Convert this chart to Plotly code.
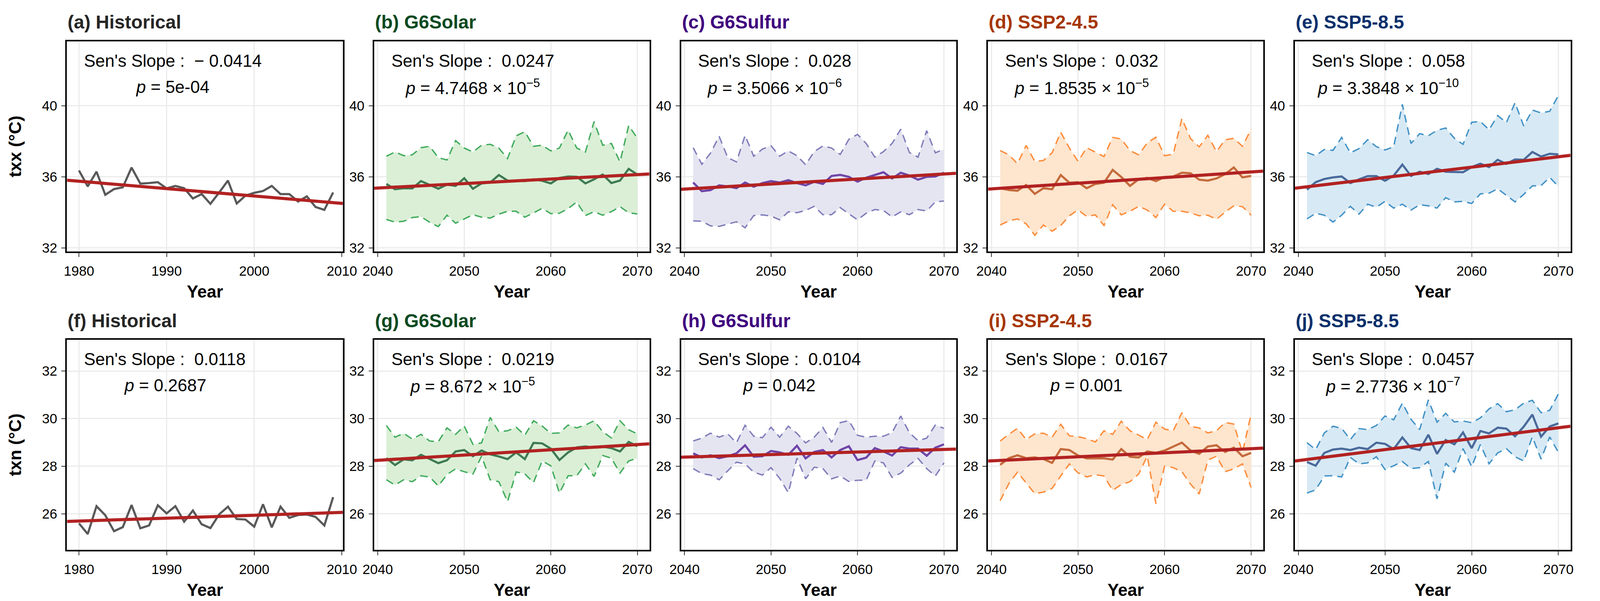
import plotly.graph_objects as go

# ---- data ----
years_hist = list(range(1980, 2010))
years_future = list(range(2041, 2071))

txx_hist = [36.36, 35.46, 36.29, 34.99, 35.31, 35.41, 36.52, 35.62, 35.65, 35.70, 35.35, 35.49, 35.36, 34.78, 35.03,
            34.48, 35.12, 35.79, 34.50, 34.94, 35.10, 35.20, 35.49, 35.03, 35.03, 34.61, 34.90, 34.30, 34.14, 35.12]

txx_solar_mean = [35.60, 35.30, 35.36, 35.35, 35.76, 35.54, 35.33, 35.56, 35.49, 35.92, 35.33, 35.63, 35.68, 36.10, 35.79,
                  35.78, 35.76, 35.86, 35.78, 35.63, 35.94, 36.02, 36.00, 35.63, 35.86, 36.13, 35.65, 35.79, 36.45, 36.13]
txx_solar_upper = [37.16, 37.40, 37.19, 37.24, 37.64, 37.72, 37.08, 36.95, 38.04, 37.62, 37.40, 37.78, 37.83, 37.62, 37.03,
                   38.31, 38.54, 37.72, 37.78, 37.46, 37.62, 38.63, 37.62, 37.40, 39.11, 37.78, 37.88, 36.84, 38.89, 38.17]
txx_solar_lower = [33.60, 33.45, 33.50, 33.71, 33.76, 33.44, 33.20, 33.84, 33.39, 33.63, 33.87, 33.73, 33.68, 33.90, 34.06,
                   34.06, 33.73, 33.97, 34.23, 33.93, 33.95, 34.21, 34.59, 33.82, 34.04, 33.84, 34.04, 34.32, 33.98, 33.91]

txx_sulfur_mean = [35.68, 35.19, 35.25, 35.52, 35.46, 35.36, 35.68, 35.44, 35.65, 35.76, 35.68, 35.81, 35.65, 35.52, 35.72,
                   35.60, 36.05, 36.11, 36.00, 35.73, 35.95, 36.11, 36.26, 35.91, 36.23, 36.07, 35.84, 36.00, 36.02, 36.23]
txx_sulfur_upper = [37.64, 36.71, 37.33, 38.28, 37.08, 36.84, 38.33, 37.16, 37.56, 37.75, 37.16, 37.46, 37.19, 36.68, 37.42,
                    37.74, 37.62, 37.26, 38.11, 38.39, 37.88, 37.11, 37.42, 37.88, 38.68, 37.37, 37.11, 38.60, 37.35, 37.56]
txx_sulfur_lower = [33.52, 33.50, 33.24, 33.21, 33.34, 33.47, 33.13, 33.82, 33.86, 33.79, 33.58, 34.03, 33.98, 34.11, 34.34,
                    33.87, 33.87, 34.27, 33.92, 33.58, 33.95, 34.16, 34.11, 33.74, 34.03, 33.87, 34.16, 34.08, 34.59, 34.64]

txx_ssp245_mean = [35.36, 35.26, 35.22, 35.54, 35.04, 35.36, 35.30, 36.10, 35.67, 35.70, 35.36, 35.60, 35.67, 36.39, 35.99,
                   35.49, 35.86, 35.94, 35.76, 35.99, 36.02, 36.23, 36.20, 35.84, 35.79, 35.91, 36.16, 36.53, 35.97, 36.05]
txx_ssp245_upper = [37.48, 37.24, 36.74, 37.77, 36.87, 36.92, 37.35, 38.51, 37.62, 36.87, 37.64, 37.40, 37.14, 38.22, 38.13,
                    37.48, 37.24, 37.91, 38.23, 37.19, 37.28, 39.28, 38.15, 37.69, 38.34, 37.42, 38.09, 38.17, 37.72, 38.68]
txx_ssp245_lower = [33.29, 33.52, 33.63, 33.36, 32.71, 33.29, 32.94, 33.26, 33.81, 34.14, 33.77, 33.86, 33.26, 34.43, 33.86,
                    34.06, 34.34, 34.13, 33.71, 34.46, 34.06, 34.06, 33.97, 33.81, 33.84, 33.61, 34.02, 34.37, 34.32, 33.84]

txx_ssp585_mean = [35.28, 35.70, 35.88, 35.97, 36.02, 35.65, 35.86, 36.04, 36.04, 35.78, 36.07, 36.69, 36.05, 36.29, 36.16,
                   36.45, 36.29, 36.29, 36.26, 36.55, 36.74, 36.55, 36.96, 36.73, 36.98, 36.96, 37.40, 37.14, 37.30, 37.26]
txx_ssp585_upper = [37.37, 37.19, 37.54, 37.49, 38.22, 37.35, 37.59, 38.09, 37.70, 37.51, 37.69, 40.08, 37.88, 38.43, 38.31,
                    38.62, 38.75, 38.17, 37.83, 39.07, 39.12, 38.65, 39.45, 39.05, 40.17, 38.86, 39.76, 39.60, 39.69, 40.58]
txx_ssp585_lower = [33.63, 33.95, 33.84, 33.45, 33.84, 34.34, 33.90, 34.46, 34.29, 34.62, 34.24, 34.46, 34.13, 34.43, 34.37,
                    34.24, 34.83, 34.59, 34.62, 34.50, 35.04, 35.08, 35.33, 34.96, 34.59, 35.01, 35.49, 35.51, 35.97, 35.46]

txn_hist = [25.60, 25.15, 26.32, 25.94, 25.27, 25.44, 26.37, 25.39, 25.51, 26.36, 26.02, 26.32, 25.67, 26.14, 25.56,
            25.40, 25.98, 26.30, 25.78, 25.76, 25.46, 26.40, 25.43, 26.30, 25.83, 25.95, 25.97, 25.87, 25.51, 26.70]

txn_solar_mean = [28.34, 28.05, 28.29, 28.25, 28.48, 28.30, 28.13, 28.25, 28.62, 28.68, 28.42, 28.66, 28.50, 28.41, 28.30,
                  28.58, 28.30, 28.98, 28.96, 28.74, 28.26, 28.58, 28.79, 28.83, 28.78, 28.82, 28.76, 28.62, 29.02, 28.84]
txn_solar_upper = [29.71, 29.22, 29.38, 29.14, 29.34, 29.06, 29.03, 29.61, 29.34, 29.69, 28.92, 28.98, 30.05, 29.45, 29.49,
                   29.64, 29.30, 29.91, 29.69, 29.38, 29.40, 29.73, 29.61, 29.73, 29.91, 29.45, 29.19, 29.91, 29.53, 29.36]
txn_solar_lower = [27.43, 27.21, 27.43, 27.35, 27.60, 27.55, 27.17, 27.65, 27.89, 27.77, 27.67, 28.42, 27.43, 27.35, 26.51,
                   27.76, 27.68, 27.31, 28.22, 28.02, 26.87, 27.60, 27.60, 28.10, 27.57, 28.45, 28.34, 27.71, 28.22, 28.34]

txn_sulfur_mean = [28.54, 28.37, 28.46, 28.34, 28.42, 28.54, 28.88, 28.40, 28.42, 28.64, 28.58, 28.48, 28.86, 28.33, 28.60,
                   28.68, 28.37, 28.68, 28.84, 28.26, 28.36, 28.76, 28.62, 28.45, 28.80, 28.74, 28.74, 28.44, 28.78, 28.92]
txn_sulfur_upper = [29.06, 29.18, 29.39, 29.22, 29.36, 28.98, 29.72, 29.26, 29.20, 29.64, 29.22, 29.68, 29.38, 28.98, 29.22,
                    29.63, 29.00, 29.83, 29.92, 29.30, 29.22, 29.26, 29.26, 29.41, 30.11, 29.41, 29.07, 29.18, 29.73, 29.59]
txn_sulfur_lower = [27.90, 27.69, 27.63, 27.43, 27.81, 28.17, 28.10, 27.75, 27.63, 27.94, 27.49, 26.89, 28.34, 27.47, 27.96,
                    27.90, 27.47, 27.59, 27.36, 27.41, 27.41, 28.22, 28.14, 27.53, 27.71, 28.06, 28.33, 27.90, 27.59, 28.14]

txn_ssp245_mean = [28.06, 28.34, 28.46, 28.34, 28.37, 28.30, 28.14, 28.72, 28.68, 28.45, 28.33, 28.34, 28.33, 28.28, 28.72,
                   28.40, 28.37, 28.62, 28.56, 28.66, 28.82, 28.99, 28.66, 28.52, 28.83, 28.88, 28.60, 28.78, 28.42, 28.56]
txn_ssp245_upper = [29.06, 29.34, 29.59, 29.12, 29.36, 29.39, 29.22, 29.76, 29.28, 29.24, 29.16, 29.02, 29.49, 29.34, 29.89,
                    29.49, 29.31, 29.12, 29.85, 29.56, 29.49, 30.25, 29.67, 29.61, 29.40, 29.49, 29.84, 29.77, 28.58, 30.19]
txn_ssp245_lower = [26.55, 27.27, 27.75, 27.29, 26.85, 26.91, 27.07, 27.59, 28.10, 27.72, 27.55, 27.64, 27.59, 26.99, 27.23,
                    27.35, 27.67, 28.42, 26.42, 28.00, 27.94, 27.77, 27.25, 26.83, 28.26, 28.42, 27.77, 27.89, 28.10, 27.11]

txn_ssp585_mean = [28.18, 28.02, 28.56, 28.70, 28.74, 28.68, 28.78, 28.72, 28.99, 28.94, 28.72, 29.21, 28.76, 28.68, 29.32,
                   28.52, 29.10, 28.92, 29.42, 28.76, 29.48, 29.38, 29.62, 29.58, 29.26, 29.66, 30.17, 29.24, 29.67, 29.80]
txn_ssp585_upper = [28.99, 28.70, 29.40, 29.68, 29.59, 29.12, 29.58, 29.54, 29.71, 30.11, 29.95, 30.65, 29.97, 29.54, 30.79,
                    29.85, 30.22, 29.86, 29.90, 29.83, 30.03, 30.41, 30.63, 30.29, 30.37, 30.65, 30.77, 30.25, 30.35, 31.04]
txn_ssp585_lower = [26.87, 27.01, 27.59, 27.60, 27.55, 28.37, 28.10, 28.14, 28.40, 27.86, 28.02, 28.20, 27.90, 27.94, 28.20,
                    26.63, 28.13, 27.75, 28.74, 27.98, 28.91, 28.10, 28.56, 28.74, 28.40, 28.22, 29.23, 28.30, 29.23, 28.58]

# Sen's slope trend line, value at the left and right edge of each panel
trend_x_hist = [1978.63, 2010.12]
trend_x_future = [2039.6, 2071.4]
txx_trend = {"hist": [35.81, 34.50], "solar": [35.36, 36.16], "sulfur": [35.30, 36.20],
             "ssp245": [35.31, 36.32], "ssp585": [35.36, 37.21]}
txn_trend = {"hist": [25.68, 26.06], "solar": [28.24, 28.94], "sulfur": [28.38, 28.72],
             "ssp245": [28.22, 28.76], "ssp585": [28.22, 29.68]}

txx_slope = ["\u2212 0.0414", "0.0247", "0.028", "0.032", "0.058"]
txx_p = ["5e-04", "4.7468 \u00d7 10<sup>\u22125</sup>", "3.5066 \u00d7 10<sup>\u22126</sup>",
         "1.8535 \u00d7 10<sup>\u22125</sup>", "3.3848 \u00d7 10<sup>\u221210</sup>"]
txn_slope = ["0.0118", "0.0219", "0.0104", "0.0167", "0.0457"]
txn_p = ["0.2687", "8.672 \u00d7 10<sup>\u22125</sup>", "0.042", "0.001", "2.7736 \u00d7 10<sup>\u22127</sup>"]

scenario_names = ["Historical", "G6Solar", "G6Sulfur", "SSP2-4.5", "SSP5-8.5"]
letters_top = ["a", "b", "c", "d", "e"]
letters_bottom = ["f", "g", "h", "i", "j"]

# ---- styles ----
FONT = "Liberation Sans, Arial, Helvetica, sans-serif"
ANNO_SIZE = 44
title_colors = ["#262626", "#0B4A21", "#3F007D", "#A63603", "#08306B"]
mean_colors = ["#595959", "#3E7A52", "#6F45A8", "#C46A3C", "#4A6A9B"]
dash_colors = [None, "#41AB5D", "#807DBA", "#FD8D3C", "#4292C6"]
fill_colors = [None, "#DAEFD6", "#E5E5F1", "#FDE5CE", "#D7E9F4"]
TREND = "#B22222"

x_domains = [[0.0351, 0.2104], [0.2303, 0.4051], [0.4252, 0.5999], [0.6202, 0.7950], [0.8151, 0.9902]]
y_domains = [[0.5789, 0.9305], [0.0793, 0.4308]]
y_ranges = [[31.8, 43.62], [24.49, 33.31]]
y_ticks = [[32, 36, 40], [26, 28, 30, 32]]
title_y = [0.963, 0.463]

# Arial / Liberation Sans advance widths (em/1000), used to centre the p line under the slope line
ARIAL_W = {" ": 278, "\u00a0": 278, "'": 191, ":": 278, ".": 278, "S": 667, "e": 556, "n": 556,
           "s": 500, "l": 222, "o": 556, "p": 556, "\u2212": 584}


def text_width(s, size):
    return sum(ARIAL_W.get(ch, 556) for ch in s) * size / 1000.0


rows = [
    {"var": "txx", "hist": txx_hist, "trend": txx_trend, "slope": txx_slope, "p": txx_p, "letters": letters_top,
     "future": [(txx_solar_mean, txx_solar_upper, txx_solar_lower, "solar"),
                (txx_sulfur_mean, txx_sulfur_upper, txx_sulfur_lower, "sulfur"),
                (txx_ssp245_mean, txx_ssp245_upper, txx_ssp245_lower, "ssp245"),
                (txx_ssp585_mean, txx_ssp585_upper, txx_ssp585_lower, "ssp585")]},
    {"var": "txn", "hist": txn_hist, "trend": txn_trend, "slope": txn_slope, "p": txn_p, "letters": letters_bottom,
     "future": [(txn_solar_mean, txn_solar_upper, txn_solar_lower, "solar"),
                (txn_sulfur_mean, txn_sulfur_upper, txn_sulfur_lower, "sulfur"),
                (txn_ssp245_mean, txn_ssp245_upper, txn_ssp245_lower, "ssp245"),
                (txn_ssp585_mean, txn_ssp585_upper, txn_ssp585_lower, "ssp585")]},
]

fig = go.Figure()
layout = {}
annotations = []

for r, row in enumerate(rows):
    for c in range(5):
        n = r * 5 + c + 1
        sfx = "" if n == 1 else str(n)
        xa, ya = "x" + sfx, "y" + sfx

        if c == 0:
            fig.add_trace(go.Scatter(x=years_hist, y=row["hist"], mode="lines", xaxis=xa, yaxis=ya,
                                     line=dict(color=mean_colors[0], width=5.5), showlegend=False))
            tx, ty = trend_x_hist, row["trend"]["hist"]
            xticks = [1980, 1990, 2000, 2010]
        else:
            mean, upper, lower, key = row["future"][c - 1]
            fig.add_trace(go.Scatter(x=years_future, y=lower, mode="lines", xaxis=xa, yaxis=ya,
                                     line=dict(color=dash_colors[c], width=3.5, dash="20px,13px"),
                                     showlegend=False))
            fig.add_trace(go.Scatter(x=years_future, y=upper, mode="lines", xaxis=xa, yaxis=ya, fill="tonexty",
                                     fillcolor=fill_colors[c],
                                     line=dict(color=dash_colors[c], width=3.5, dash="20px,13px"),
                                     showlegend=False))
            fig.add_trace(go.Scatter(x=years_future, y=mean, mode="lines", xaxis=xa, yaxis=ya,
                                     line=dict(color=mean_colors[c], width=5.5), showlegend=False))
            tx, ty = trend_x_future, row["trend"][key]
            xticks = [2040, 2050, 2060, 2070]

        fig.add_trace(go.Scatter(x=tx, y=ty, mode="lines", xaxis=xa, yaxis=ya,
                                 line=dict(color=TREND, width=8), showlegend=False))

        axis_common = dict(showline=True, mirror=True, linecolor="black", linewidth=4,
                           showgrid=True, gridcolor="#EBEBEB", gridwidth=3, zeroline=False,
                           ticks="outside", ticklen=10, tickwidth=2, tickcolor="#333333",
                           tickfont=dict(family=FONT, size=35, color="black"))
        layout["xaxis" + sfx] = dict(axis_common, domain=x_domains[c], anchor=ya, range=tx,
                                     tickvals=xticks, ticklabelstandoff=6,
                                     title=dict(text="<b>Year</b>", standoff=20,
                                                font=dict(family=FONT, size=44, color="black")))
        yax = dict(axis_common, domain=y_domains[r], anchor=xa, range=y_ranges[r], tickvals=y_ticks[r],
                   ticklabelstandoff=4)
        if c == 0:
            yax["title"] = dict(text="<b>%s (°C)</b>" % row["var"], standoff=40,
                                font=dict(family=FONT, size=45, color="black"))
        layout["yaxis" + sfx] = yax

        # panel title
        annotations.append(dict(text="<b>(%s) %s</b>" % (row["letters"][c], scenario_names[c]),
                                xref=xa + " domain", x=0, xanchor="left",
                                yref="paper", y=title_y[r], yanchor="middle",
                                showarrow=False, font=dict(family=FONT, size=48, color=title_colors[c])))
        # Sen's slope text, p value centred under it
        line1 = "Sen's Slope : \u00a0" + row["slope"][c]
        annotations.append(dict(text=line1, xref=xa + " domain", x=0.059, xanchor="left",
                                yref=ya + " domain", y=0.9076, yanchor="middle",
                                showarrow=False, font=dict(family=FONT, size=ANNO_SIZE, color="black")))
        annotations.append(dict(text="<i>p</i> = " + row["p"][c], xref=xa + " domain", x=0.059,
                                xanchor="center", xshift=text_width(line1, ANNO_SIZE) / 2 + 1,
                                yref=ya + " domain", y=0.7837, yanchor="middle",
                                showarrow=False, font=dict(family=FONT, size=ANNO_SIZE, color="black")))

fig.update_layout(**layout)
fig.update_layout(
    annotations=annotations,
    autosize=True,
    margin=dict(l=0, r=0, t=0, b=0),
    paper_bgcolor="white", plot_bgcolor="white",
    showlegend=False,
)

# let the figure fill the whole window (no default page margin / scrollbars)
fit_js = ("document.body.style.margin='0';document.body.style.overflow='hidden';"
          "Plotly.Plots.resize(document.getElementById('{plot_id}'));")
fig.write_html("out.html", post_script=fit_js, config={"displayModeBar": False})
